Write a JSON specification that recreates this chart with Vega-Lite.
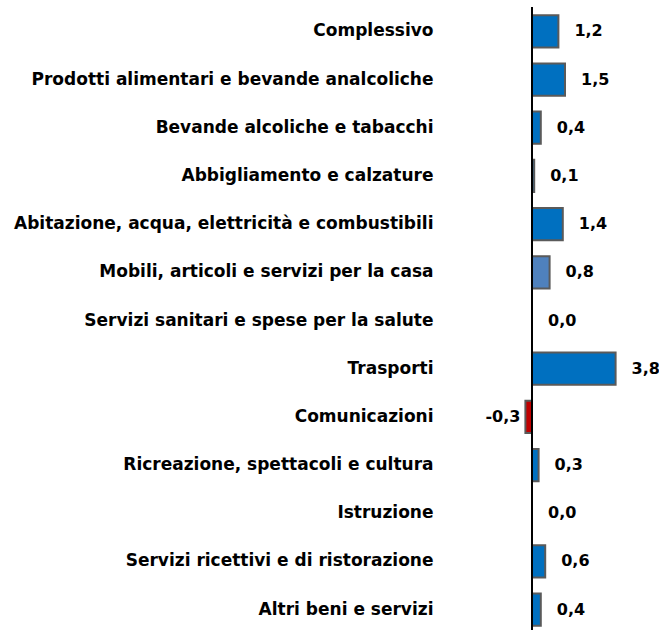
{
  "$schema": "https://vega.github.io/schema/vega-lite/v6.json",
  "autosize": "none",
  "padding": {"left": 444, "top": 7, "right": 0, "bottom": 0},
  "width": 214.5,
  "height": 627,
  "background": "white",
  "config": {
    "view": {"stroke": null},
    "locale": {"number": {"decimal": ",", "thousands": ".", "grouping": [3], "currency": ["€", ""], "minus": "-"}}
  },
  "data": {"values": [
    {"categoria": "Complessivo", "valore": 1.2, "tipo": "a"},
    {"categoria": "Prodotti alimentari e bevande analcoliche", "valore": 1.5, "tipo": "a"},
    {"categoria": "Bevande alcoliche e tabacchi", "valore": 0.4, "tipo": "a"},
    {"categoria": "Abbigliamento e calzature", "valore": 0.1, "tipo": "a"},
    {"categoria": "Abitazione, acqua, elettricità e combustibili", "valore": 1.4, "tipo": "a"},
    {"categoria": "Mobili, articoli e servizi per la casa", "valore": 0.8, "tipo": "b"},
    {"categoria": "Servizi sanitari e spese per la salute", "valore": 0.0, "tipo": "a"},
    {"categoria": "Trasporti", "valore": 3.8, "tipo": "a"},
    {"categoria": "Comunicazioni", "valore": -0.3, "tipo": "n"},
    {"categoria": "Ricreazione, spettacoli e cultura", "valore": 0.3, "tipo": "a"},
    {"categoria": "Istruzione", "valore": 0.0, "tipo": "a"},
    {"categoria": "Servizi ricettivi e di ristorazione", "valore": 0.6, "tipo": "a"},
    {"categoria": "Altri beni e servizi", "valore": 0.4, "tipo": "a"}
  ]},
  "encoding": {
    "y": {
      "field": "categoria", "type": "nominal", "sort": null,
      "scale": {"paddingInner": 0.33, "paddingOuter": 0.17},
      "axis": {"title": null, "domain": false, "ticks": false, "labelFont": "DejaVu Sans", "labelFontWeight": "bold", "labelFontSize": 17, "labelColor": "black", "labelPadding": 11, "labelLimit": 500}
    }
  },
  "layer": [
    {
      "mark": {"type": "bar", "stroke": "#5a5a5a", "strokeWidth": 2},
      "encoding": {
        "x": {"field": "valore", "type": "quantitative", "scale": {"domain": [-4, 5.75], "nice": false, "zero": false}, "axis": null},
        "color": {"field": "tipo", "type": "nominal", "scale": {"domain": ["a", "b", "n"], "range": ["#0070C0", "#4F81BD", "#C00000"]}, "legend": null}
      }
    },
    {
      "mark": {"type": "rule", "color": "black", "strokeWidth": 1.5},
      "encoding": {"x": {"datum": 0, "type": "quantitative"}, "y": null}
    },
    {
      "transform": [{"filter": "datum.valore >= 0"}],
      "mark": {"type": "text", "align": "left", "baseline": "middle", "dx": 16, "font": "DejaVu Sans", "fontWeight": "bold", "fontSize": 16, "color": "black"},
      "encoding": {
        "x": {"field": "valore", "type": "quantitative"},
        "text": {"field": "valore", "type": "quantitative", "format": ".1f"}
      }
    },
    {
      "transform": [{"filter": "datum.valore < 0"}],
      "mark": {"type": "text", "align": "right", "baseline": "middle", "dx": -5, "font": "DejaVu Sans", "fontWeight": "bold", "fontSize": 16, "color": "black"},
      "encoding": {
        "x": {"field": "valore", "type": "quantitative"},
        "text": {"field": "valore", "type": "quantitative", "format": ".1f"}
      }
    }
  ]
}
